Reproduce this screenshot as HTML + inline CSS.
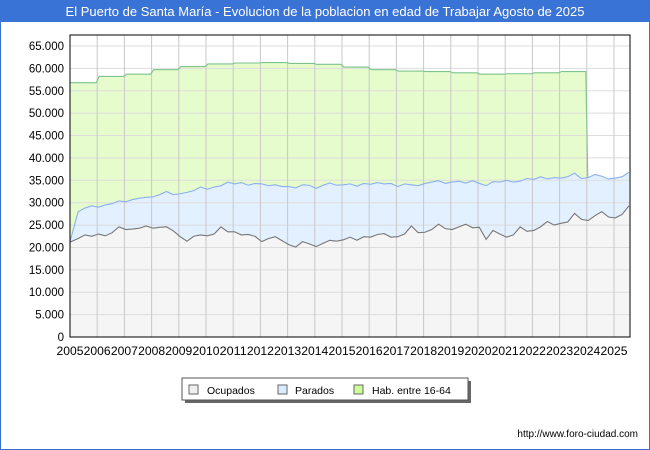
<!DOCTYPE html>
<html><head><meta charset="utf-8"><style>
body{margin:0;background:#fff}
svg{display:block;font-family:"Liberation Sans",sans-serif}
</style></head><body>
<svg id="c" width="650" height="450" xmlns="http://www.w3.org/2000/svg">
<rect x="0.5" y="0.5" width="649" height="449" fill="#fff" stroke="#3a6fd0"/>
<rect x="0" y="0" width="650" height="22" fill="#3a73d6"/>
<text x="325" y="16" text-anchor="middle" fill="#fff" font-size="13">El Puerto de Santa María - Evolucion de la poblacion en edad de Trabajar Agosto de 2025</text>
<g id="plot"></g>
<g>
<rect x="185" y="381" width="286" height="22" fill="#666"/>
<rect x="182" y="378" width="286" height="22" fill="#fff" stroke="#555"/>
<rect x="189" y="385" width="9" height="9" fill="#f0f0f0" stroke="#666"/>
<text x="207" y="394" font-size="10.5">Ocupados</text>
<rect x="278" y="385" width="9" height="9" fill="#dcecff" stroke="#666"/>
<text x="295" y="394" font-size="10.5">Parados</text>
<rect x="354" y="385" width="9" height="9" fill="#ccff99" stroke="#666"/>
<text x="372" y="394" font-size="10.5">Hab. entre 16-64</text>
</g>
<text x="638" y="437" text-anchor="end" font-size="10">http://www.foro-ciudad.com</text>
</svg>
<script>
const years=[2005,2006,2007,2008,2009,2010,2011,2012,2013,2014,2015,2016,2017,2018,2019,2020,2021,2022,2023];
const hab=[56800,58200,58700,59700,60400,61000,61200,61300,61100,60900,60300,59700,59400,59300,59000,58700,58800,59000,59300];
const ocupados=[21200,22000,22800,22500,23000,22600,23300,24600,24000,24100,24300,24800,24300,24500,24600,23700,22400,21400,22500,22800,22600,23000,24600,23500,23500,22800,22900,22500,21300,22000,22400,21500,20600,20100,21300,20800,20200,20900,21600,21400,21700,22300,21600,22400,22300,22900,23100,22300,22400,23000,24800,23300,23400,24000,25200,24200,24000,24600,25200,24400,24500,21800,23800,23000,22300,22800,24600,23600,23800,24600,25800,25000,25400,25700,27600,26300,26000,27100,28000,26800,26600,27400,29300];
const activos=[21300,28000,28800,29300,29000,29500,29800,30400,30200,30700,31000,31200,31300,31800,32500,31800,32000,32300,32700,33500,33000,33500,33800,34600,34200,34500,33900,34300,34200,33800,34000,33600,33600,33300,34000,33900,33200,33900,34400,33900,34000,34200,33700,34300,34100,34500,34200,34300,33600,34200,34000,33800,34300,34600,34900,34300,34600,34800,34400,34900,34300,33800,34700,34600,35000,34600,34800,35400,35200,35800,35300,35600,35500,35800,36600,35400,35600,36300,35900,35300,35500,35800,36800];
const yTicks=[0,5000,10000,15000,20000,25000,30000,35000,40000,45000,50000,55000,60000,65000];
const xTicks=[2005,2006,2007,2008,2009,2010,2011,2012,2013,2014,2015,2016,2017,2018,2019,2020,2021,2022,2023,2024,2025];
const L=70,R=630,T=35,B=337,yr=27.2;
const X=t=>L+(t-2005)*yr;
const Y=v=>B-v*291/65000;
const NS="http://www.w3.org/2000/svg";
const g=document.getElementById('plot');
function mk(tag,at){const e=document.createElementNS(NS,tag);for(const k in at)e.setAttribute(k,at[k]);g.appendChild(e);return e;}
const qt=i=>2005+i/4+0.05;
let hp=[];years.forEach((y,i)=>{hp.push([X(y)+(i?2:0),Y(hab[i])]);hp.push([X(y+1)-1,Y(hab[i])]);});
let gd='M'+X(2005)+','+B+' '+hp.map(p=>p.join(',')).join(' ')+' L'+(X(2024)+1)+','+B+'Z';
let e=mk('path',{d:gd,fill:'#e6fccc'});


let ap=activos.map((v,i)=>[X(Math.min(qt(i),2025.59)),Y(v)]);
ap[0][0]=X(2005);
e=mk('path',{d:'M'+X(2005)+','+B+' L'+ap.map(p=>p.join(',')).join(' L')+' L'+ap[ap.length-1][0]+','+B+'Z',fill:'#e2f0ff'});


let op=ocupados.map((v,i)=>[X(Math.min(qt(i),2025.59)),Y(v)]);
op[0][0]=X(2005);
e=mk('path',{d:'M'+X(2005)+','+B+' L'+op.map(p=>p.join(',')).join(' L')+' L'+op[op.length-1][0]+','+B+'Z',fill:'#f5f5f5'});


yTicks.forEach(v=>{if(v>0){const l=mk('line',{x1:L,x2:R,y1:Y(v),y2:Y(v),stroke:'#ddd'});}
const t=mk('text',{x:64,y:Y(v)+4,'text-anchor':'end','font-size':'11.5'});t.textContent=v.toLocaleString('de-DE');});
const yrx=[2006,2007,2008,2009,2010,2011,2012,2013,2014,2015,2016,2017,2018,2019,2020,2021,2022,2023,2024,2025];
yrx.forEach(y=>{const l=mk('line',{x1:X(y),x2:X(y),y1:T,y2:B,stroke:'#c8c8c8'});});
xTicks.forEach(y=>{const t=mk('text',{x:X(y),y:355,'text-anchor':'middle','font-size':'11.5',textLength:'27',lengthAdjust:'spacingAndGlyphs'});t.textContent=y;});
e=mk('polyline',{points:hp.map(p=>p.join(',')).join(' ')+' '+(X(2024)+1)+','+Y(activos[76]),fill:'none',stroke:'#7cc48c','stroke-width':1.1});


e=mk('polyline',{points:ap.map(p=>p.join(',')).join(' '),fill:'none',stroke:'#8cb0ee','stroke-width':1.1});


e=mk('polyline',{points:op.map(p=>p.join(',')).join(' '),fill:'none',stroke:'#777','stroke-width':1.1});


e=mk('rect',{x:L,y:T,width:R-L,height:B-T,fill:'none',stroke:'#000'});


</script>
</body></html>
